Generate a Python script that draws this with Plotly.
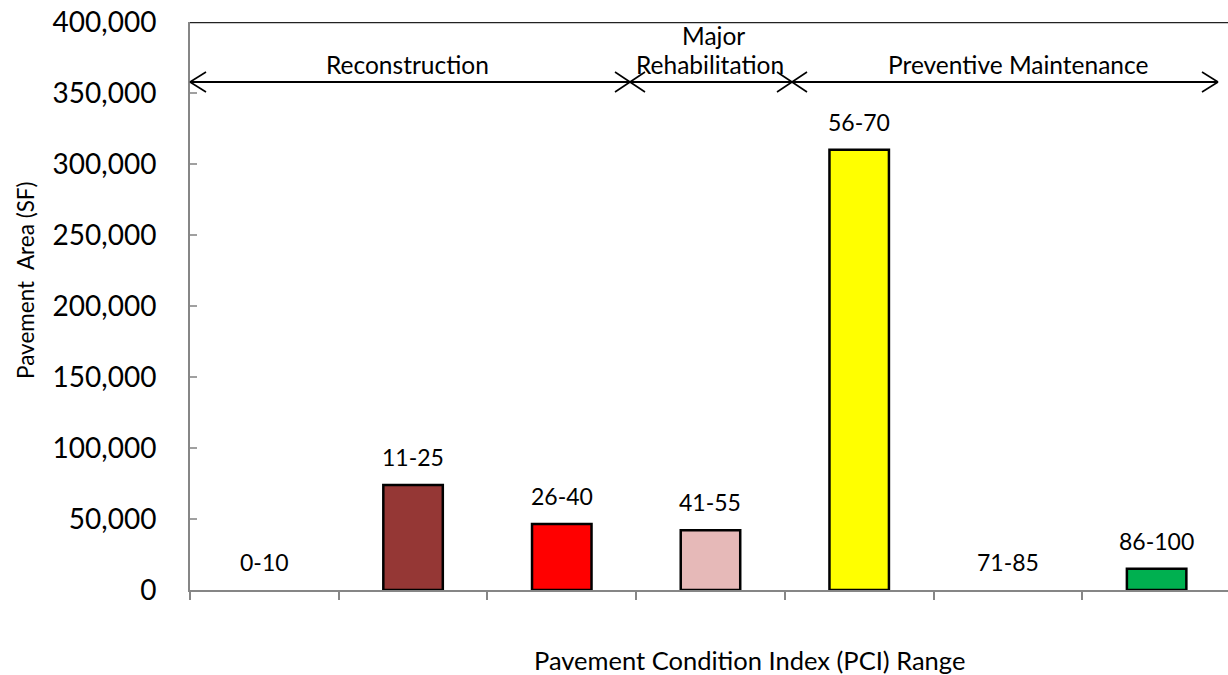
import plotly.graph_objects as go

categories = ["0-10", "11-25", "26-40", "41-55", "56-70", "71-85", "86-100"]
area_sf = [0, 74000, 46500, 42000, 310000, 0, 15000]
bar_colors = ["#953735", "#953735", "#FF0000", "#E6B9B8", "#FFFF00", "#00B050", "#00B050"]
y_ticks = [0, 50000, 100000, 150000, 200000, 250000, 300000, 350000, 400000]

FONT = "Lato"
W, H = 1228, 675
L, R, T, B = 190, 0, 22, 85
pw = W - L - R
ph = H - T - B

def px(xp):
    return (xp - L) / pw

def py(yp):
    return (H - B - yp) / ph

fig = go.Figure()
fig.add_trace(go.Bar(
    x=categories, y=area_sf, width=0.4,
    marker=dict(color=bar_colors,
                line=dict(color="black", width=[2.5 if v > 0 else 0 for v in area_sf])),
    hoverinfo="x+y", showlegend=False,
))

annotations = []
for c, v in zip(categories, area_sf):
    annotations.append(dict(x=c, y=v, xref="x", yref="y", text=c, showarrow=False,
                            yanchor="bottom", yshift=12,
                            font=dict(family=FONT, size=23, color="black")))

ay = py(82)
for txt, xc, yc in [("Reconstruction", 407, 64), ("Major", 713, 36), ("Rehabilitation", 710, 64),
                    ("Preventive Maintenance", 1018, 64)]:
    annotations.append(dict(x=px(xc), y=py(yc), xref="paper", yref="paper", text=txt,
                            showarrow=False, xanchor="center", yanchor="middle",
                            font=dict(family=FONT, size=24.5, color="black")))

annotations.append(dict(x=px(749), y=py(660), xref="paper", yref="paper",
                        text="Pavement Condition Index (PCI) Range", showarrow=False,
                        xanchor="center", yanchor="middle",
                        font=dict(family=FONT, size=25.5, color="black")))
annotations.append(dict(x=px(25), y=py(280), xref="paper", yref="paper",
                        text="Pavement  Area (SF)", showarrow=False, textangle=-90,
                        xanchor="center", yanchor="middle",
                        font=dict(family=FONT, size=22.5, color="black")))

shapes = []
shapes.append(dict(type="line", xref="paper", yref="y", x0=0, x1=1, y0=400000, y1=400000,
                   line=dict(color="#222222", width=2.5)))
shapes.append(dict(type="line", xref="paper", yref="paper", x0=px(190), x1=px(1218), y0=ay, y1=ay,
                   line=dict(color="black", width=2)))

def seg(x0, y0, x1, y1):
    shapes.append(dict(type="line", xref="paper", yref="paper", x0=px(x0), x1=px(x1),
                       y0=py(y0), y1=py(y1), line=dict(color="black", width=1.6)))

seg(190, 82, 206, 72); seg(190, 82, 206, 92)
seg(1218, 82, 1202, 72); seg(1218, 82, 1202, 92)
for xc in (630, 792):
    seg(xc - 15, 72, xc + 15, 92); seg(xc - 15, 92, xc + 15, 72)

fig.update_layout(
    width=W, height=H, margin=dict(l=L, r=R, t=T, b=B),
    plot_bgcolor="white", paper_bgcolor="white",
    font=dict(family=FONT, color="black"),
    annotations=annotations, shapes=shapes,
    xaxis=dict(type="category", range=[-0.5, 6.48], showticklabels=False,
               ticks="outside", tickson="boundaries", ticklen=8, tickcolor="#868686", tickwidth=2,
               showline=True, linecolor="#868686", linewidth=2, showgrid=False, zeroline=False),
    yaxis=dict(range=[0, 400000], tickvals=y_ticks, tickformat=",d",
               ticks="inside", ticklen=7, tickcolor="#A0A0A0", tickwidth=1.5,
               showline=True, linecolor="#868686", linewidth=2, showgrid=False, zeroline=False,
               tickfont=dict(family=FONT, size=28, color="black"), ticklabelstandoff=26),
)

fig.write_html("out.html", config={"displayModeBar": False},
               post_script="document.body.style.margin='0';")
